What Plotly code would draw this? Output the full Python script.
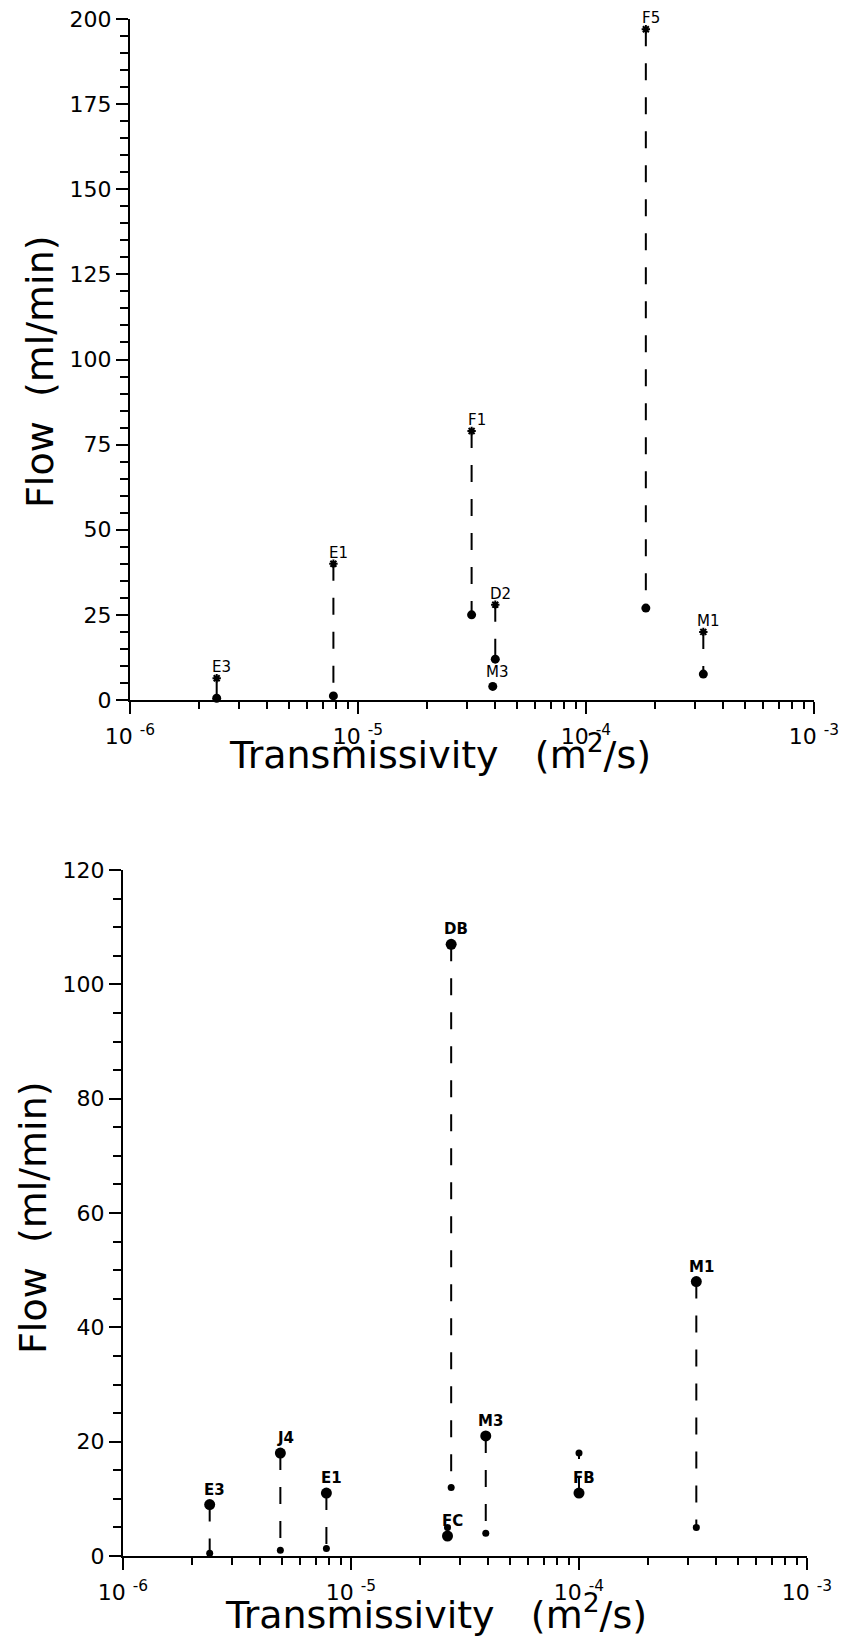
import math
import plotly.graph_objects as go

# ---------------- data ----------------
# Top panel: upper value (star) and lower value (dot) per well
top_wells = ["E3", "E1", "F1", "D2", "M3", "F5", "M1"]
top_T = [2.4e-6, 7.8e-6, 3.15e-5, 4.0e-5, 3.9e-5, 1.83e-4, 3.27e-4]
top_upper = [6.4, 40, 79, 28, None, 197, 20]
top_lower = [0.5, 1.2, 25, 12, 4, 27, 7.6]

# Bottom panel: labelled value (large dot) and paired value (small dot)
bot_wells = ["E3", "J4", "E1", "DB", "FC", "M3", "FB", "M1"]
bot_T = [2.4e-6, 4.9e-6, 7.8e-6, 2.75e-5, 2.65e-5, 3.9e-5, 1.0e-4, 3.27e-4]
bot_main = [9, 18, 11, 107, 3.5, 21, 11, 48]
bot_other = [0.5, 1.0, 1.3, 12, 5, 4, 18, 5]

x_tick_vals = [1e-6, 1e-5, 1e-4, 1e-3]
x_tick_text = ["10 <sup>-6</sup>", "10 <sup>-5</sup>", "10 <sup>-4</sup>", "10 <sup>-3</sup>"]
top_y_ticks = [0, 25, 50, 75, 100, 125, 150, 175, 200]
bot_y_ticks = [0, 20, 40, 60, 80, 100, 120]

W, H = 851, 1640
FONT = "DejaVu Sans"
DASH = "17px,17px"

fig = go.Figure()

# ---------------- top panel ----------------
for w, t, u, l in zip(top_wells, top_T, top_upper, top_lower):
    if u is not None:
        fig.add_trace(go.Scatter(x=[t, t], y=[u, l], mode="lines",
                                 line=dict(color="black", width=2, dash=DASH),
                                 xaxis="x", yaxis="y", showlegend=False, cliponaxis=False))
su_x = [t for t, u in zip(top_T, top_upper) if u is not None]
su_y = [u for u in top_upper if u is not None]
fig.add_trace(go.Scatter(x=su_x, y=su_y, mode="markers",
                         marker=dict(symbol="asterisk-open", size=7, color="black",
                                     line=dict(color="black", width=2)),
                         xaxis="x", yaxis="y", showlegend=False, cliponaxis=False))
fig.add_trace(go.Scatter(x=top_T, y=top_lower, mode="markers",
                         marker=dict(symbol="circle", size=9, color="black"),
                         xaxis="x", yaxis="y", showlegend=False, cliponaxis=False))

# ---------------- bottom panel ----------------
for w, t, m, o in zip(bot_wells, bot_T, bot_main, bot_other):
    fig.add_trace(go.Scatter(x=[t, t], y=[m, o], mode="lines",
                             line=dict(color="black", width=2, dash=DASH),
                             xaxis="x2", yaxis="y2", showlegend=False, cliponaxis=False))
fig.add_trace(go.Scatter(x=bot_T, y=bot_main, mode="markers",
                         marker=dict(symbol="circle", size=11, color="black"),
                         xaxis="x2", yaxis="y2", showlegend=False, cliponaxis=False))
fig.add_trace(go.Scatter(x=bot_T, y=bot_other, mode="markers",
                         marker=dict(symbol="circle", size=7, color="black"),
                         xaxis="x2", yaxis="y2", showlegend=False, cliponaxis=False))

annotations = []
for w, t, u, l in zip(top_wells, top_T, top_upper, top_lower):
    yv = u if u is not None else l
    annotations.append(dict(x=math.log10(t), y=yv, xref="x", yref="y", text=w,
                            showarrow=False, xanchor="center", yanchor="bottom",
                            xshift=5, yshift=0 if u is not None else 3,
                            font=dict(family=FONT, size=15, color="black")))
for w, t, m in zip(bot_wells, bot_T, bot_main):
    annotations.append(dict(x=math.log10(t), y=m, xref="x2", yref="y2", text="<b>" + w + "</b>",
                            showarrow=False, xanchor="center", yanchor="bottom",
                            xshift=5, yshift=4,
                            font=dict(family=FONT, size=15, color="black")))

title_font = dict(family=FONT, size=38, color="black")
# axis titles
annotations += [
    dict(x=40 / W, y=1 - 372 / H, xref="paper", yref="paper", text="Flow\u00a0\u00a0(ml/min)",
         textangle=-90, showarrow=False, xanchor="center", yanchor="middle", font=title_font),
    dict(x=440 / W, y=1 - 752 / H, xref="paper", yref="paper",
         text="Transmissivity\u00a0\u00a0\u00a0(m<sup>2</sup>/s)",
         showarrow=False, xanchor="center", yanchor="middle", font=title_font),
    dict(x=33 / W, y=1 - 1218 / H, xref="paper", yref="paper", text="Flow\u00a0\u00a0(ml/min)",
         textangle=-90, showarrow=False, xanchor="center", yanchor="middle", font=title_font),
    dict(x=436 / W, y=1 - 1612 / H, xref="paper", yref="paper",
         text="Transmissivity\u00a0\u00a0\u00a0(m<sup>2</sup>/s)",
         showarrow=False, xanchor="center", yanchor="middle", font=title_font),
]

tick_font = dict(family=FONT, size=22, color="black")
minor_x = [m * 10 ** e for e in (-6, -5, -4) for m in range(2, 10)]


def xcfg(domain, anchor):
    return dict(type="log", range=[-6, -3], domain=domain, anchor=anchor,
                automargin=False,
                showline=True, linecolor="black", linewidth=2,
                ticks="outside", ticklen=12, tickwidth=2, tickcolor="black",
                tickmode="array", tickvals=x_tick_vals, ticktext=x_tick_text,
                tickfont=tick_font, ticklabelstandoff=4,
                minor=dict(tickmode="array", tickvals=minor_x, ticks="outside",
                           ticklen=7, tickwidth=2, tickcolor="black"),
                showgrid=False, zeroline=False)


def ycfg(domain, anchor, rng, ticks, minor_dt):
    return dict(range=rng, domain=domain, anchor=anchor,
                automargin=False,
                showline=True, linecolor="black", linewidth=2,
                ticks="outside", ticklen=12, tickwidth=2, tickcolor="black",
                tickmode="array", tickvals=ticks, tickfont=tick_font,
                minor=dict(dtick=minor_dt, ticks="outside", ticklen=8, tickwidth=2,
                           tickcolor="black"),
                showgrid=False, zeroline=False)


fig.update_layout(
    width=W, height=H,
    margin=dict(l=0, r=0, t=0, b=0),
    paper_bgcolor="white", plot_bgcolor="white",
    showlegend=False,
    xaxis=xcfg([130 / W, 814 / W], "y"),
    yaxis=ycfg([1 - 700 / H, 1 - 19 / H], "x", [0, 200], top_y_ticks, 5),
    xaxis2=xcfg([123 / W, 807 / W], "y2"),
    yaxis2=ycfg([1 - 1556 / H, 1 - 870 / H], "x2", [0, 120], bot_y_ticks, 5),
    annotations=annotations,
)

fig.write_html("out.html")
